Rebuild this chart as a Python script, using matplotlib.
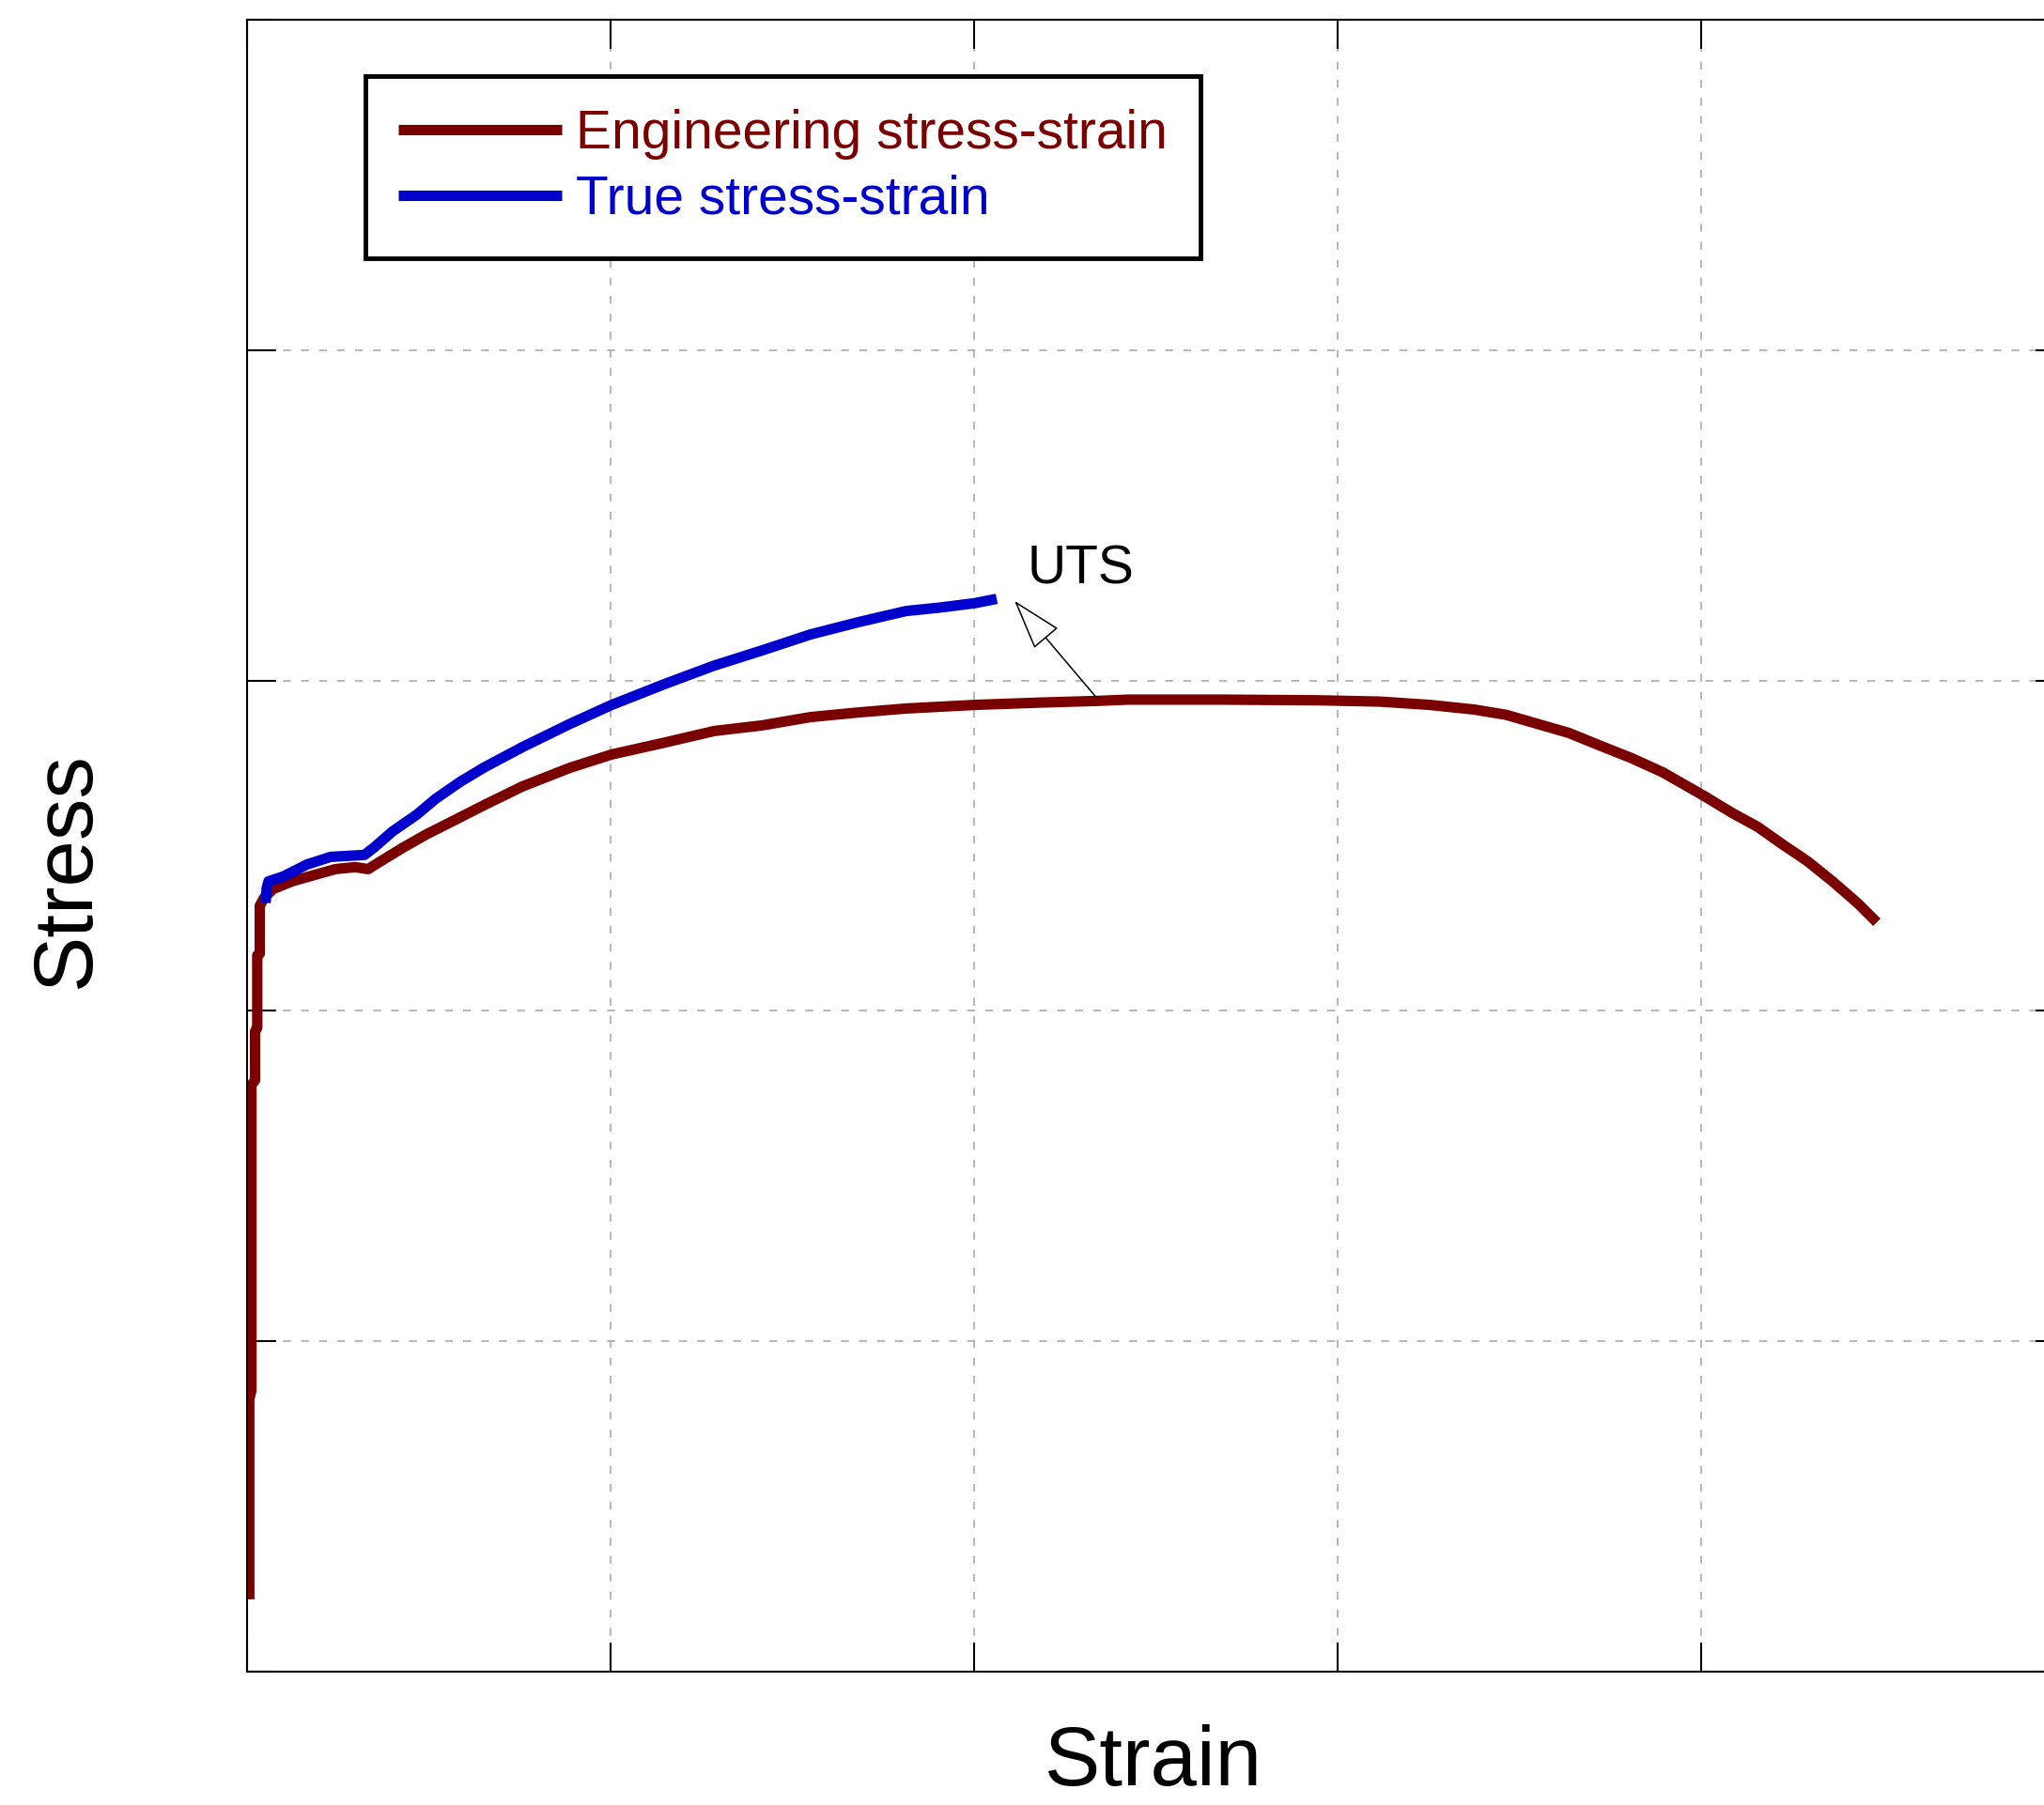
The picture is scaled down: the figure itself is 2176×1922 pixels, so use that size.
import matplotlib
matplotlib.use("Agg")
import matplotlib.pyplot as plt
import numpy as np

plt.rcParams["font.family"] = ["Liberation Sans", "DejaVu Sans"]

# engineering stress-strain (strain, stress in MPa)
eng_strain = [0.0007, 0.0007, 0.0013, 0.0013, 0.0023, 0.0023, 0.0029, 0.0029,
              0.0036, 0.0036, 0.0049, 0.0073, 0.0125, 0.0179, 0.0244, 0.0298,
              0.0334, 0.0363, 0.0430, 0.0494, 0.0561, 0.0652, 0.0758, 0.0890,
              0.1004, 0.1154, 0.1286, 0.1418, 0.1550, 0.1681, 0.1813, 0.2003,
              0.2182, 0.2337, 0.2425, 0.2683, 0.2944, 0.3117, 0.3254, 0.3376,
              0.3464, 0.3549, 0.3637, 0.3722, 0.3809, 0.3895, 0.4008, 0.4086,
              0.4156, 0.4223, 0.4293, 0.4363, 0.4432, 0.4484]
eng_stress = [21.9, 82.4, 85.2, 177.6, 179.0, 193.8, 194.9, 216.8,
              217.3, 231.8, 234.4, 236.9, 239.2, 240.9, 242.9, 243.5,
              242.9, 244.9, 249.4, 253.4, 257.1, 262.2, 267.9, 273.6,
              277.6, 281.3, 284.7, 286.4, 288.9, 290.3, 291.5, 292.6,
              293.3, 293.8, 294.2, 294.2, 294.0, 293.6, 292.6, 291.2,
              289.6, 286.9, 284.1, 280.3, 276.5, 272.2, 265.1, 259.9,
              255.7, 250.5, 245.3, 239.1, 232.5, 226.8]

# true stress-strain up to UTS
true_strain = [0.0052, 0.0055, 0.0060, 0.0099, 0.0166, 0.0231, 0.0324, 0.0350,
               0.0401, 0.0468, 0.0520, 0.0587, 0.0652, 0.0758, 0.0890, 0.1004,
               0.1154, 0.1286, 0.1418, 0.1550, 0.1681, 0.1813, 0.1910, 0.2003,
               0.2063]
true_stress = [232.7, 237.2, 239.2, 240.6, 244.3, 246.6, 247.2, 249.4,
               254.3, 259.4, 264.2, 269.3, 273.6, 279.8, 286.9, 292.6,
               299.1, 304.5, 309.1, 313.9, 317.6, 321.0, 322.1, 323.4,
               324.7]

uts_tip = (0.2112, 324.1)
uts_tail = (0.2339, 294.6)
uts_label = (0.2148, 329.3)

RED = "#7A0000"
BLUE = "#0000CC"

fig = plt.figure(figsize=(21.76, 19.22), dpi=100)
ax = fig.add_axes([0.1207, 0.0739, 0.8893, 0.9152])

ax.plot(eng_strain, eng_stress, color=RED, lw=8, solid_capstyle="butt",
        label="Engineering stress-strain")
ax.plot(true_strain, true_stress, color=BLUE, lw=8, solid_capstyle="butt",
        label="True stress-strain")

ax.set_xlim(0, 0.5)
ax.set_ylim(0, 500)
ax.set_xticks(np.arange(0, 0.51, 0.1))
ax.set_yticks(np.arange(0, 501, 100))
ax.tick_params(direction="in", length=22, width=1.5, top=True, right=True,
               labelbottom=False, labelleft=False)
for sp in ax.spines.values():
    sp.set_linewidth(1.5)
ax.grid(True, color="#AAAAAA", lw=1.2, linestyle=(0, (5, 6.5)))
ax.set_axisbelow(True)

ax.annotate("", xy=uts_tip, xytext=uts_tail,
            arrowprops=dict(arrowstyle="-|>,head_length=3.5,head_width=1.1",
                            fc="white", ec="black", lw=1.1, shrinkA=0, shrinkB=0))
ax.text(uts_label[0], uts_label[1], "UTS", fontsize=41, ha="left", va="baseline")

leg = ax.legend(loc="upper left", bbox_to_anchor=(0.0653, 0.966), borderaxespad=0,
                fontsize=41, handlelength=3.05, handletextpad=0.26, borderpad=0.62,
                labelspacing=0.27, fancybox=False, framealpha=1, labelcolor="linecolor")
leg.get_frame().set_edgecolor("black")
leg.get_frame().set_linewidth(3.5)

fig.text(1228 / 2176, 0.001, "Strain", fontsize=64, ha="center", va="bottom")
fig.text(72 / 2176, 1 - 926 / 1922, "Stress", fontsize=64, rotation=90,
         ha="center", va="center")

fig.savefig("out.png", dpi=100)
